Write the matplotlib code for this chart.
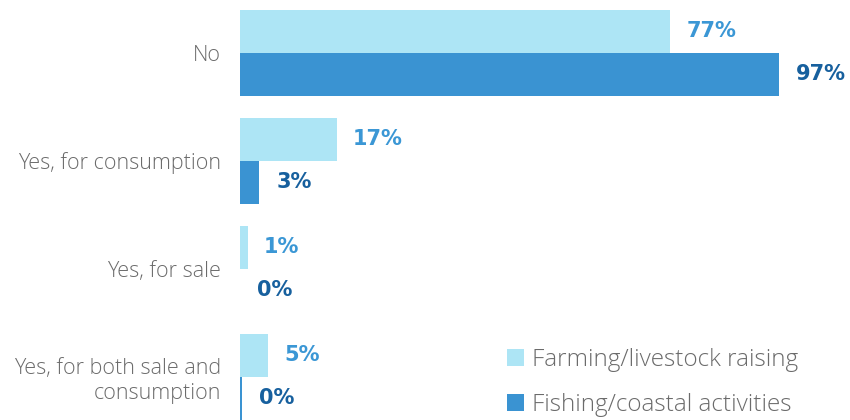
import matplotlib
matplotlib.use("Agg")
import matplotlib.pyplot as plt
from matplotlib.patches import Patch

categories = ["No", "Yes, for consumption", "Yes, for sale", "Yes, for both sale and\nconsumption"]
farming = [77.4, 17.4, 1.4, 5.0]
fishing = [97.0, 3.4, 0.0, 0.3]
series_names = ["Farming/livestock raising", "Fishing/coastal activities"]

light = "#ade5f5"
dark = "#3a93d2"
light_lbl = "#3b97d5"
dark_lbl = "#17609e"
grey = "#6b6b6b"

fig = plt.figure(figsize=(8.5, 4.2), dpi=100)
ax = fig.add_axes([240 / 850, 0, 610 / 850, 1])

h = 0.4
y = list(range(len(categories)))
ax.barh([i - h / 2 for i in y], farming, height=h, color=light)
ax.barh([i + h / 2 for i in y], fishing, height=h, color=dark)

for i, v in enumerate(farming):
    ax.text(v + 2.9, i - h / 2, f"{v:.0f}%", va="center", ha="left",
            color=light_lbl, fontsize=15, fontweight="bold", family="DejaVu Sans")
for i, v in enumerate(fishing):
    ax.text(v + 3.1, i + h / 2, f"{v:.0f}%", va="center", ha="left",
            color=dark_lbl, fontsize=15, fontweight="bold", family="DejaVu Sans")

ax.set_xlim(0, 610 / 5.557)
ax.set_ylim(3.40, -0.49)
ax.set_yticks(y)
ax.set_yticklabels(categories, fontsize=15.5, color=grey, family="Open Sans",
                   fontweight="light", linespacing=1.25)
ax.tick_params(axis="y", length=0, pad=13.5)
ax.set_xticks([])
for s in ax.spines.values():
    s.set_visible(False)

handles = [Patch(facecolor=light, label=series_names[0]),
           Patch(facecolor=dark, label=series_names[1])]
leg = ax.legend(handles=handles, loc="lower left", bbox_to_anchor=(0.4225, -0.017),
                frameon=False, prop={"family": "Open Sans", "weight": "light", "size": 17.5},
                handlelength=0.7, handleheight=0.7, handletextpad=0.3,
                labelspacing=0.9, borderaxespad=0)
for t in leg.get_texts():
    t.set_color(grey)

fig.savefig("out.png", dpi=100)
